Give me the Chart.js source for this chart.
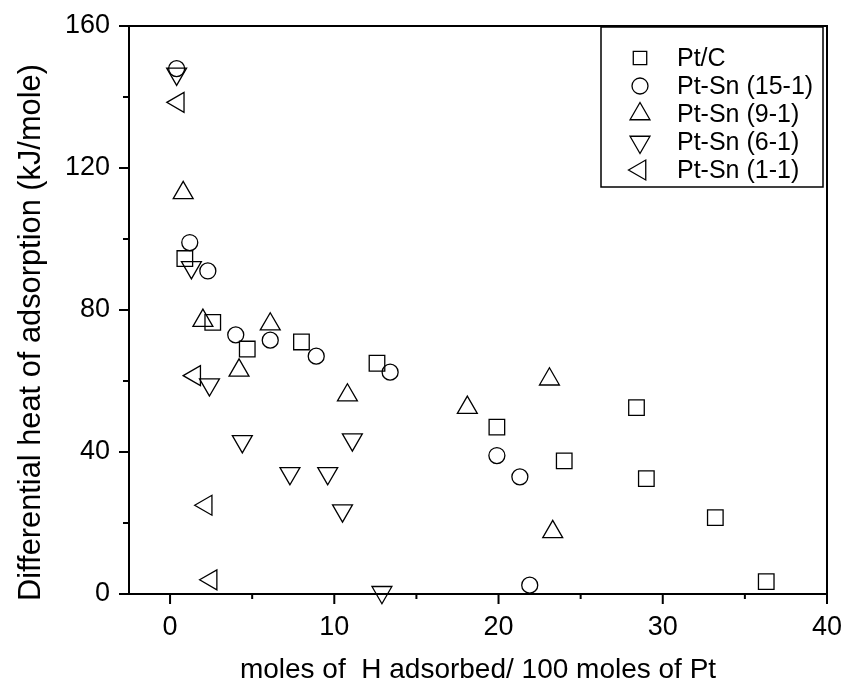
<!DOCTYPE html>
<html lang="en">
<head>
<meta charset="UTF-8">
<title>Differential heat of adsorption</title>
<script src="https://cdn.jsdelivr.net/npm/chart.js"></script>
<style>
  html, body { margin: 0; padding: 0; background: #fff; }
</style>
</head>
<body>
<canvas id="heatChart" width="847" height="687"></canvas>
<script>
// data
const seriesNames = ['Pt/C', 'Pt-Sn (15-1)', 'Pt-Sn (9-1)', 'Pt-Sn (6-1)', 'Pt-Sn (1-1)'];

const ptcX = [0.9, 2.6, 4.7, 8.0, 12.6, 19.9, 24.0, 28.4, 29.0, 33.2, 36.3];
const ptcY = [94.5, 76.5, 69, 71, 65, 47, 37.5, 52.5, 32.5, 21.5, 3.5];

const sn15X = [0.4, 1.2, 2.3, 4.0, 6.1, 8.9, 13.4, 19.9, 21.3, 21.9];
const sn15Y = [148, 99, 91, 73, 71.5, 67, 62.5, 39, 33, 2.5];

const sn9X = [0.8, 2.0, 4.2, 6.1, 10.8, 18.1, 23.1, 23.3];
const sn9Y = [113, 77, 63, 76, 56, 52.5, 60.5, 17.5];

const sn6X = [0.4, 1.3, 2.4, 4.4, 7.3, 9.6, 10.5, 11.1, 12.9];
const sn6Y = [146.5, 92, 59, 43, 34, 34, 23.5, 43.5, 0.5];

const sn1X = [0.5, 1.5, 2.2, 2.5];
const sn1Y = [138.5, 61.5, 25, 4];

const xTicks = [0, 10, 20, 30, 40];
const yTicks = [0, 40, 80, 120, 160];
const xMinor = [5, 15, 25, 35];
const yMinor = [20, 60, 100, 140];

const xTitle = 'moles of  H adsorbed/ 100 moles of Pt';
const yTitle = 'Differential heat of adsorption (kJ/mole)';

const FONT = 'Liberation Sans, Arial, Helvetica, sans-serif';

function pts(xs, ys) {
    return xs.map((x, i) => ({ x: x, y: ys[i] }));
}

const markers = [
    { pointStyle: 'rect', radius: 11, rotation: 0 },
    { pointStyle: 'circle', radius: 8, rotation: 0 },
    { pointStyle: 'triangle', radius: 11.5, rotation: 0 },
    { pointStyle: 'triangle', radius: 11.5, rotation: 180 },
    { pointStyle: 'triangle', radius: 11.5, rotation: 270 }
];
const seriesData = [pts(ptcX, ptcY), pts(sn15X, sn15Y), pts(sn9X, sn9Y), pts(sn6X, sn6Y), pts(sn1X, sn1Y)];

const datasets = seriesNames.map((name, i) => ({
    label: name,
    data: seriesData[i],
    showLine: false,
    clip: false,
    pointStyle: markers[i].pointStyle,
    pointRadius: markers[i].radius,
    pointRotation: markers[i].rotation,
    pointBorderWidth: 1.3,
    borderColor: '#000',
    pointBorderColor: '#000',
    pointBackgroundColor: 'rgba(0,0,0,0)'
}));

// frame, outward ticks (major + minor), y title and the boxed legend
const framePlugin = {
    id: 'framePlugin',
    afterDraw(chart) {
        const ctx = chart.ctx;
        const a = chart.chartArea;
        const xs = chart.scales.x, ys = chart.scales.y;
        ctx.save();
        ctx.strokeStyle = '#000';
        ctx.lineWidth = 2;
        ctx.strokeRect(a.left, a.top, a.right - a.left, a.bottom - a.top);

        ctx.beginPath();
        xTicks.forEach(v => { const p = xs.getPixelForValue(v); ctx.moveTo(p, a.bottom); ctx.lineTo(p, a.bottom + 10); });
        xMinor.forEach(v => { const p = xs.getPixelForValue(v); ctx.moveTo(p, a.bottom); ctx.lineTo(p, a.bottom + 5); });
        yTicks.forEach(v => { const p = ys.getPixelForValue(v); ctx.moveTo(a.left, p); ctx.lineTo(a.left - 10, p); });
        yMinor.forEach(v => { const p = ys.getPixelForValue(v); ctx.moveTo(a.left, p); ctx.lineTo(a.left - 6, p); });
        ctx.stroke();

        // y axis title, starts a little below the axis bottom like the original
        ctx.save();
        ctx.translate(32, a.bottom + 7);
        ctx.rotate(-Math.PI / 2);
        ctx.fillStyle = '#000';
        ctx.font = '30.8px ' + FONT;
        ctx.textAlign = 'left';
        ctx.textBaseline = 'middle';
        ctx.fillText(yTitle, 0, 0);
        ctx.restore();

        // legend box
        ctx.lineWidth = 1.5;
        ctx.strokeRect(601, 27, 222, 160);
        ctx.font = '25px ' + FONT;
        ctx.textBaseline = 'middle';
        ctx.textAlign = 'left';
        seriesNames.forEach((name, i) => {
            const y = 58 + i * 28;
            ctx.lineWidth = 1.3;
            ctx.strokeStyle = '#000';
            ctx.fillStyle = 'rgba(0,0,0,0)';
            Chart.helpers.drawPoint(ctx, {
                pointStyle: markers[i].pointStyle,
                radius: markers[i].pointStyle === 'rect' ? 9.5 : markers[i].radius,
                rotation: markers[i].rotation,
                borderWidth: 1.3
            }, 640, y);
            ctx.fillStyle = '#000';
            ctx.fillText(name, 677, y + 1);
        });
        ctx.restore();
    }
};

function noOverflow(s) {
    s.paddingLeft = 0;
    s.paddingRight = 0;
    s.paddingTop = 0;
    s.paddingBottom = 0;
}

new Chart(document.getElementById('heatChart'), {
    type: 'scatter',
    data: { datasets: datasets },
    options: {
        responsive: false,
        animation: false,
        devicePixelRatio: 1,
        events: [],
        layout: { padding: { top: 26, right: 20, left: 0, bottom: 0 } },
        plugins: {
            legend: { display: false },
            tooltip: { enabled: false }
        },
        scales: {
            x: {
                type: 'linear',
                min: -2.5,
                max: 40,
                afterBuildTicks: s => { s.ticks = xTicks.map(v => ({ value: v })); },
                afterFit: s => { s.height = 93; noOverflow(s); },
                grid: { display: false, drawTicks: false },
                border: { display: false },
                ticks: { color: '#000', font: { family: FONT, size: 27 }, padding: 17, maxRotation: 0 },
                title: {
                    display: true,
                    text: xTitle,
                    color: '#000',
                    font: { family: FONT, size: 28 },
                    padding: { top: 0, bottom: 0 }
                }
            },
            y: {
                type: 'linear',
                min: 0,
                max: 160,
                afterBuildTicks: s => { s.ticks = yTicks.map(v => ({ value: v })); },
                afterFit: s => { s.width = 129; noOverflow(s); },
                grid: { display: false, drawTicks: false },
                border: { display: false },
                ticks: { color: '#000', font: { family: FONT, size: 27 }, padding: 19 },
                title: { display: false }
            }
        }
    },
    plugins: [framePlugin]
});
</script>
</body>
</html>
